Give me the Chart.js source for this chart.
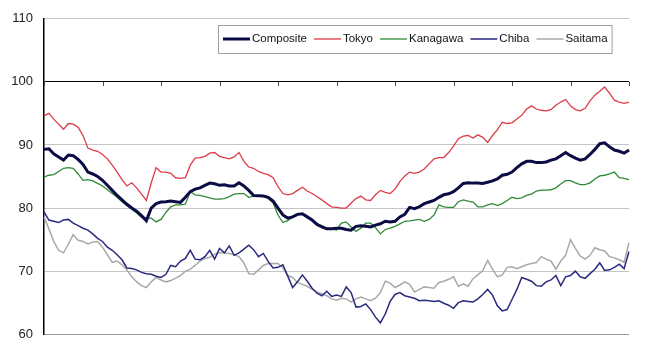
<!DOCTYPE html>
<html>
<head>
<meta charset="utf-8">
<script src="https://cdn.jsdelivr.net/npm/chart.js@4/dist/chart.umd.min.js"></script>
<style>
  html, body { margin: 0; padding: 0; background: #fff; }
  #wrap { width: 653px; height: 353px; position: relative; }
</style>
</head>
<body>
<div id="wrap"><canvas id="c" width="653" height="353"></canvas></div>
<script>
// ---- data (monthly, 10 year-intervals on the x axis) ----
const seriesNames = ["Composite", "Tokyo", "Kanagawa", "Chiba", "Saitama"];
const yTicks = [60, 70, 80, 90, 100, 110];
const yearTickMonths = [0, 12, 24, 36, 48, 60, 72, 84, 96, 108, 120];
const months = Array.from({ length: 121 }, (_, i) => i);

const composite = [
  89.3, 89.4, 88.6, 88.1, 87.6, 88.4, 88.3, 87.7, 86.9, 85.7,
  85.4, 85.0, 84.4, 83.6, 82.8, 82.0, 81.3, 80.6, 80.0, 79.5,
  78.8, 78.0, 80.0, 80.7, 80.95, 81.0, 81.1, 81.0, 80.9, 81.7,
  82.6, 83.0, 83.2, 83.6, 83.95, 83.85, 83.6, 83.7, 83.5, 83.5,
  84.0, 83.5, 82.8, 82.0, 81.95, 81.9, 81.7, 81.1, 80.0, 78.9,
  78.4, 78.6, 79.0, 79.1, 78.6, 78.1, 77.4, 77.0, 76.7, 76.7,
  76.8, 76.8, 76.6, 76.5, 77.1, 77.2, 77.1, 77.0, 77.3, 77.5,
  77.9, 77.8, 77.9, 78.6, 79.0, 80.1, 79.9, 80.2, 80.7, 80.95,
  81.2, 81.7, 82.1, 82.25, 82.6, 83.2, 83.9, 84.0, 83.95, 83.95,
  83.9, 84.1, 84.3, 84.6, 85.2, 85.35, 85.7, 86.4, 87.0, 87.4,
  87.4, 87.2, 87.2, 87.3, 87.6, 87.8, 88.3, 88.8, 88.3, 87.9,
  87.6, 87.8, 88.5, 89.3, 90.2, 90.35, 89.7, 89.2, 89.0, 88.7,
  89.2
];
const tokyo = [
  94.6, 95.0, 94.1, 93.3, 92.5, 93.4, 93.3, 92.8, 91.5, 89.5,
  89.2, 89.0, 88.5, 87.8, 86.8, 85.7, 84.5, 83.5, 84.0, 83.2,
  82.2, 81.2, 84.0, 86.4, 85.7, 85.7, 85.5, 84.8, 84.7, 84.8,
  86.8, 87.9, 88.0, 88.2, 88.7, 88.8, 88.2, 88.0, 87.8, 88.1,
  88.8, 87.4, 86.5, 86.3, 85.8, 85.5, 85.3, 84.8, 83.4, 82.3,
  82.1, 82.3, 82.8, 83.3, 82.7, 82.3, 81.8, 81.3, 80.7, 80.2,
  80.1, 80.0, 80.0, 80.8, 81.5, 81.9, 81.3, 81.2, 82.1, 82.8,
  82.5, 82.3, 83.0, 84.2, 85.1, 85.7, 85.5, 85.7, 86.2, 87.0,
  87.8, 88.0, 88.0, 88.8, 89.8, 91.0, 91.4, 91.5, 91.1, 91.6,
  91.2, 90.4, 91.5, 92.4, 93.6, 93.4, 93.5, 94.1, 94.7, 95.7,
  96.2, 95.7, 95.5, 95.4, 95.6, 96.3, 96.8, 97.2, 96.2, 95.6,
  95.4, 95.8, 97.0, 97.9, 98.5, 99.2, 98.2, 97.1, 96.8, 96.6,
  96.8
];
const kanagawa = [
  84.9, 85.2, 85.3, 85.8, 86.3, 86.4, 86.3, 85.4, 84.4, 84.5,
  84.3, 83.9, 83.5, 82.9, 82.3, 81.7, 81.0, 80.4, 79.8, 79.2,
  78.5, 78.4, 78.4, 77.8, 78.2, 79.3, 80.2, 80.5, 80.5, 80.6,
  82.6, 82.1, 82.0, 81.8, 81.6, 81.4, 81.4, 81.5, 81.8, 82.2,
  82.3, 82.3, 81.7, 81.9, 81.95, 81.95, 81.5, 80.8, 78.9, 77.7,
  78.0, 78.6, 78.9, 79.1, 78.5, 78.0, 77.5, 77.2, 76.8, 76.7,
  76.5, 77.6, 77.8, 77.0, 76.3, 76.8, 77.6, 77.6, 76.9, 75.9,
  76.6, 76.8, 77.1, 77.5, 77.9, 77.95, 78.1, 78.2, 77.9, 78.2,
  78.9, 80.5, 80.2, 80.1, 80.1, 81.0, 81.3, 81.1, 80.95, 80.2,
  80.2, 80.5, 80.7, 80.4, 80.7, 81.2, 81.7, 81.5, 81.6, 82.0,
  82.2, 82.7, 82.85, 82.85, 82.9, 83.2, 83.8, 84.35, 84.35, 84.0,
  83.7, 83.7, 84.0, 84.6, 85.1, 85.2, 85.4, 85.7, 84.8, 84.7,
  84.5
];
const chiba = [
  79.4, 78.1, 77.9, 77.7, 78.1, 78.2, 77.6, 77.2, 76.8, 76.5,
  75.9, 75.2, 74.7, 73.8, 73.3, 72.6, 71.8, 70.5, 70.4, 70.2,
  69.8, 69.6, 69.5, 69.2, 69.0, 69.5, 70.9, 70.7, 71.6, 72.0,
  73.3, 71.9, 71.8, 72.3, 73.3, 71.9, 73.6, 72.9, 74.0, 72.5,
  72.9, 73.5, 74.1, 73.4, 72.3, 72.8, 71.5, 70.5, 70.6, 71.0,
  69.2, 67.4, 68.3, 69.4, 68.4, 67.3, 66.5, 66.1, 66.8, 66.0,
  66.2, 66.0, 67.5, 66.6, 64.3, 64.4, 64.8, 63.9, 62.7, 61.8,
  63.2, 65.2, 66.3, 66.6, 66.1, 65.9, 65.7, 65.3, 65.4, 65.3,
  65.2, 65.3, 64.9, 64.6, 64.1, 65.0, 65.3, 65.2, 65.1, 65.6,
  66.3, 67.1, 66.2, 64.5, 63.7, 63.9, 65.5, 67.1, 69.0, 68.7,
  68.4, 67.7, 67.6, 68.3, 68.6, 69.3, 67.7, 69.1, 69.3, 70.0,
  69.1, 68.85, 69.6, 70.3, 71.3, 70.1, 70.2, 70.6, 71.1, 70.4,
  73.1
];
const saitama = [
  78.6, 76.7, 74.7, 73.3, 72.9, 74.3, 75.8, 74.9, 74.7, 74.3,
  74.6, 74.7, 73.8, 72.6, 71.4, 71.6, 71.0, 70.2, 69.1, 68.3,
  67.7, 67.4, 68.3, 69.0, 68.6, 68.3, 68.5, 68.9, 69.3, 70.0,
  70.3, 70.9, 71.6, 72.0, 72.2, 72.7, 72.9, 72.9, 72.8, 72.6,
  72.3, 71.3, 69.6, 69.5, 70.2, 70.9, 71.2, 71.2, 71.2, 70.5,
  69.3, 69.0, 68.2, 67.9, 67.6, 67.1, 66.7, 66.4, 66.1, 65.6,
  65.4, 65.7, 65.6, 65.1, 65.6, 65.9, 65.6, 65.3, 65.7, 66.6,
  68.4, 68.1, 67.4, 67.8, 68.3, 67.9, 66.7, 67.1, 67.5, 67.4,
  67.3, 68.2, 68.4, 68.7, 69.1, 67.6, 68.0, 67.6, 68.8, 69.4,
  70.1, 71.7, 70.3, 69.1, 69.4, 70.6, 70.7, 70.4, 70.7, 71.0,
  71.2, 71.35, 72.3, 71.9, 71.6, 70.3, 71.6, 72.5, 75.0, 73.6,
  72.4, 71.9, 72.5, 73.7, 73.4, 73.2, 72.3, 72.1, 71.8, 71.4,
  74.5
];

// ---- styles ----
const colors = ["#0b0b45", "#dc3c48", "#2f8a35", "#2a2a80", "#a9a9a9"];
const widths = [3, 1.3, 1.3, 1.5, 1.5];
const values = [composite, tokyo, kanagawa, chiba, saitama];

const datasets = seriesNames.map((name, i) => ({
  label: name,
  data: values[i],
  borderColor: colors[i],
  backgroundColor: colors[i],
  borderWidth: widths[i],
  pointRadius: 0,
  tension: 0,
  fill: false
}));

const extras = {
  id: "extras",
  afterDatasetsDraw(chart) {
    const ctx = chart.ctx;
    const xs = chart.scales.x, ys = chart.scales.y;
    // small tick marks hanging from the 100 line
    const y100 = ys.getPixelForValue(100);
    ctx.save();
    ctx.strokeStyle = "#444";
    ctx.lineWidth = 1;
    yearTickMonths.forEach(m => {
      const x = Math.round(xs.getPixelForValue(m)) + 0.5;
      ctx.beginPath();
      ctx.moveTo(x, y100);
      ctx.lineTo(x, y100 + 4);
      ctx.stroke();
    });
    // legend box
    ctx.font = "11.5px 'Liberation Sans', Arial, sans-serif";
    ctx.textBaseline = "middle";
    const boxL = 218, boxT = 25, boxH = 28;
    let x = 223;
    const cy = boxT + boxH / 2;
    const items = [];
    seriesNames.forEach((name, i) => {
      const tw = ctx.measureText(name).width;
      items.push({ name, i, x, tw });
      x = x + 29 + tw + 7;
    });
    const boxR = x - 7 + 4;
    ctx.fillStyle = "#fff";
    ctx.fillRect(boxL, boxT, boxR - boxL, boxH);
    ctx.strokeStyle = "#a0a0a0";
    ctx.lineWidth = 1;
    ctx.strokeRect(boxL + 0.5, boxT + 0.5, boxR - boxL, boxH);
    items.forEach(it => {
      ctx.strokeStyle = colors[it.i];
      ctx.lineWidth = widths[it.i];
      ctx.beginPath();
      ctx.moveTo(it.x, cy);
      ctx.lineTo(it.x + 27, cy);
      ctx.stroke();
      ctx.fillStyle = "#111";
      ctx.fillText(it.name, it.x + 29, cy);
    });
    ctx.restore();
  }
};

new Chart(document.getElementById("c"), {
  type: "line",
  data: { labels: months, datasets },
  options: {
    responsive: false,
    animation: false,
    devicePixelRatio: 1,
    layout: { padding: { top: 13, right: 24, bottom: 7, left: 0 } },
    plugins: { legend: { display: false }, tooltip: { enabled: false } },
    scales: {
      x: {
        type: "category",
        display: false,
        offset: false
      },
      y: {
        min: 60, max: 110,
        afterBuildTicks(scale) { scale.ticks = yTicks.map(v => ({ value: v })); },
        afterFit(scale) { scale.width = 44; },
        border: { display: true, color: "#000", width: 1.5 },
        grid: {
          drawTicks: false,
          lineWidth: 1,
          color: c => c.tick.value === 100 ? "#000" : (c.tick.value === 60 ? "#9a9a9a" : "#c4c4c4")
        },
        ticks: {
          padding: 11,
          color: "#222",
          font: { family: "'Liberation Sans', Arial, sans-serif", size: 13 }
        }
      }
    }
  },
  plugins: [extras]
});
</script>
</body>
</html>
